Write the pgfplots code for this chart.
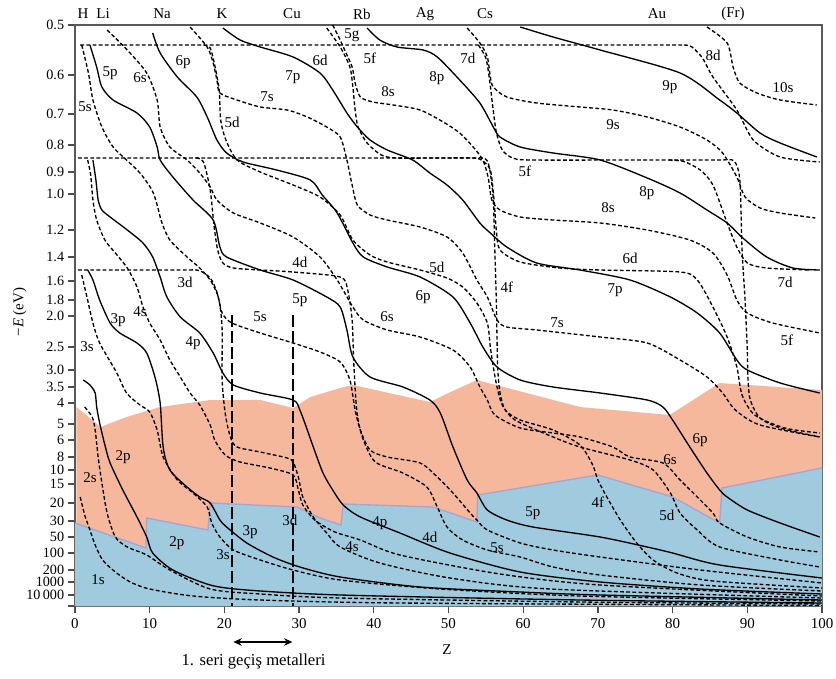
\documentclass[border=0pt]{standalone}
\usepackage{fontspec}
\setmainfont{Liberation Serif}
\usepackage{pgfplots}
\pgfplotsset{compat=1.18}
\usetikzlibrary{arrows.meta}
\definecolor{orangeF}{RGB}{245,184,156}
\definecolor{blueF}{RGB}{160,202,222}
\definecolor{edgeB}{RGB}{165,165,210}
\newcommand{\lab}{\fontsize{9}{10}\selectfont}
\pgfplotsset{
 sol/.style={black, line width=0.8pt, smooth, tension=0.45, no marks},
 das/.style={black, line width=0.8pt, dash pattern=on 2.3pt off 1.4pt, smooth, tension=0.45, no marks},
}
\begin{document}
\begin{tikzpicture}
\begin{axis}[name=ax, at={(0,0)}, anchor=south west, scale only axis,
 width=448.2pt, height=348.6pt,
 xmin=0, xmax=100, ymin=25, ymax=606, y dir=reverse, clip=false,
 axis line style={draw=black!65, line width=0.9pt},
 xtick={0,10,...,100}, xticklabels={0,10,20,30,40,50,60,70,80,90,100},
 ytick={25,75,114,145,172,194,230,257,281,300,316,347,370,387,403,424,440,457,470,484,503,521,537,553,570,582,595,606},
 yticklabels={0.5,0.6,0.7,0.8,0.9,1.0,1.2,1.4,1.6,1.8,2.0,2.5,3.0,3.5,4,5,6,8,10,15,20,30,50,100,200,1000,10\,000,{}},
 tick align=outside, major tick length=4pt,
 tick style={black!70, line width=0.8pt},
 xtick pos=bottom, ytick pos=left,
 xticklabel style={font=\lab},
 yticklabel style={font=\fontsize{8.5}{9}\selectfont, xshift=1pt, inner ysep=1pt},
]
% shaded regions
\addplot[fill=orangeF, draw=none] coordinates {(0.2,407) (3.4,427) (6.9,417) (11.4,407) (18.1,400) (24.8,400) (29.2,408) (31.5,397) (35.5,388) (37.2,385) (47.5,402) (50,393) (53.8,380) (67.6,407) (79.6,415) (86.3,383) (100,390) (100,606) (0.2,606)} -- cycle;
\addplot[fill=blueF, draw=none] coordinates {(0,523) (9.5,548) (9.6,518) (17.8,530) (18.1,503) (29.7,507) (32.8,518) (35.6,525) (35.9,504) (47.9,507) (53.8,522) (53.9,495) (70,475) (80,497) (86.3,523) (86.6,488) (100,468) (100,606) (0,606)} -- cycle;
\addplot[edgeB, line width=0.8pt] coordinates {(0,523) (9.5,548) (9.6,518) (17.8,530) (18.1,503) (29.7,507) (32.8,518) (35.6,525) (35.9,504) (47.9,507) (53.8,522) (53.9,495) (70,475) (80,497) (86.3,523) (86.6,488) (100,468)};

% hydrogen-like levels / high-l orbitals
\addplot[das] coordinates {(0.7,45) (40,45) (78,45) (81.5,45) (82.6,47) (84,58) (85.4,77) (88.6,110) (90.8,140) (94.4,157) (99.7,162)}; % 5g
\addplot[das] coordinates {(0.4,158) (30,158) (52,158) (54.5,158) (55.2,161) (55.6,173) (56.0,200) (56.2,250) (56.4,300) (56.5,340) (56.6,370) (56.9,393) (57.6,410) (59.6,420) (64.0,430) (67.6,445) (69.3,465) (70.0,480) (71.2,497) (73.0,520) (75.2,543) (77.4,560) (80.6,573) (85.4,581) (100,588)}; % 4f
\addplot[das] coordinates {(0.4,270) (8,270) (14.5,270) (16.6,270.5) (18.1,278) (18.9,290) (19.4,305) (19.7,330) (19.7,380) (20.1,413) (20.8,437) (21.7,447) (24.8,452) (28.4,458) (29.2,462) (29.9,477) (30.5,497) (31.9,517) (33.7,533) (35.5,547) (40.8,563) (50.2,578) (63.6,589) (100,598)}; % 3d
\addplot[das] coordinates {(54.0,45) (55.0,58) (55.5,80) (55.9,105) (56.4,132) (57.2,150) (58.6,158) (61,160) (75,160) (86,160) (88.2,161) (89.0,180) (89.3,250) (89.7,300) (90.0,350) (90.1,380) (90.4,400) (91.7,418) (94.4,428) (99.7,437)}; % 5f
\addplot[das] coordinates {(79.5,160) (81.5,161.5) (83.7,170) (85.4,185) (87.3,223) (88.6,247) (90.0,263) (92.6,268) (98.4,270)}; % 7d

% n = 1, 2
\addplot[das] coordinates {(0.7,497) (1.3,515) (2.0,530) (2.7,545) (3.7,560) (5.4,572) (7.4,582) (10.0,589) (15.8,596) (24.8,600) (43.5,603) (100,605.5)}; % 1s
\addplot[das] coordinates {(1.3,407) (2.3,417) (2.7,430) (3.1,457) (3.6,483) (4.3,513) (5.4,537) (7.0,547) (9.6,555) (12.7,570) (18.1,589) (24.8,594) (35.5,598) (67.6,602) (100,604)}; % 2s
\addplot[sol] coordinates {(1.1,380) (2.0,385) (2.7,393) (2.9,407) (3.3,423) (4.0,445) (4.7,463) (6.4,490) (8.3,517) (9.6,537) (10.4,553) (13.1,570) (18.1,585) (23.0,590) (35.5,595) (67.6,600) (100,603)}; % 2p

% n = 3
\addplot[das] coordinates {(0.9,275) (1.6,297) (2.4,323) (3.3,343) (5.6,373) (6.9,393) (8.7,405) (10.0,412) (11.0,430) (11.8,457) (13.7,480) (15.8,493) (17.7,507) (18.3,523) (19.4,537) (21.2,550) (24.8,560) (29.2,570) (35.5,580) (48.9,589) (67.6,596) (100,601)}; % 3s
\addplot[sol] coordinates {(1.7,270) (2.4,280) (3.3,300) (4.7,323) (6.0,333) (8.3,343) (9.6,353) (10.7,377) (11.4,403) (11.8,447) (12.7,470) (15.0,487) (16.7,497) (18.1,503) (19.4,520) (20.3,527) (23.0,543) (26.5,557) (30.1,567) (35.5,577) (46.2,587) (59.6,592) (70.3,595) (100,600)}; % 3p

% n = 4
\addplot[das] coordinates {(1.7,160) (2.1,175) (2.4,200) (2.9,220) (4.0,240) (5.4,253) (7.0,268) (8.3,287) (9.1,307) (10.0,323) (11.4,340) (12.7,360) (14.1,377) (15.4,393) (16.7,405) (18.1,425) (18.7,440) (20.1,455) (22.1,462) (26.1,468) (29.2,475) (29.9,490) (30.5,505) (32.1,520) (34.8,532) (38.2,540) (43.5,555) (56.9,574) (70.3,585) (100,596)}; % 4s
\addplot[sol] coordinates {(2.4,160) (2.8,180) (3.1,200) (3.6,210) (4.7,217) (7.0,230) (9.1,243) (10.4,257) (11.4,277) (12.3,297) (14.1,317) (16.7,333) (18.5,353) (19.8,373) (21.2,385) (24.8,393) (29.2,400) (30.1,410) (31.1,430) (31.9,447) (33.2,473) (34.5,490) (35.9,505) (38.2,517) (43.5,533) (50.2,553) (59.6,572) (70.3,582) (83.7,589) (100,594)}; % 4p
\addplot[das] coordinates {(16.2,158) (17.2,162) (18.1,190) (18.6,225) (19.1,250) (19.8,263) (21.2,268) (24.8,270) (29.2,272) (35.5,277) (36.5,290) (37.1,320) (37.3,360) (37.6,400) (37.9,420) (38.6,440) (40.2,462) (43.9,473) (47.1,487) (48.5,507) (49.8,527) (51.9,540) (55.2,550) (59.6,557) (64.0,567) (70.3,575) (83.7,585) (100,591)}; % 4d

% n = 5
\addplot[das] coordinates {(0.9,45) (1.8,73) (2.4,100) (3.6,127) (5.1,147) (6.9,160) (8.7,173) (10.3,190) (11.0,205) (11.6,222) (12.7,240) (15.0,257) (16.7,268) (18.1,280) (19.1,295) (19.7,313) (21.0,323) (24.8,333) (29.2,343) (32.8,352) (35.5,362) (36.8,380) (37.5,410) (38.2,430) (39.5,450) (41.8,457) (46.2,463) (48.5,477) (50.6,493) (52.9,513) (53.8,520) (55.2,530) (59.6,543) (64.0,550) (70.3,557) (83.7,570) (100,583)}; % 5s
\addplot[sol] coordinates {(2.0,45) (2.9,67) (3.6,87) (5.1,100) (8.3,113) (10.0,127) (11.0,147) (11.4,160) (13.1,177) (15.8,200) (18.5,220) (19.4,247) (20.3,257) (24.8,270) (29.2,280) (33.7,297) (35.5,307) (36.4,330) (37.2,357) (39.5,377) (43.9,387) (47.5,400) (48.9,413) (50.6,447) (52.5,480) (53.8,493) (55.2,510) (57.8,520) (61.3,527) (70.3,537) (76.6,547) (80.0,553) (86.3,565) (100,578)}; % 5p
\addplot[das] coordinates {(17.2,45) (18.1,48) (18.7,65) (19.3,90) (19.5,120) (20.2,140) (21.7,160) (24.8,172) (29.2,185) (32.8,197) (35.5,215) (37.2,240) (39.5,255) (41.8,262) (46.2,270) (49.8,278) (51.9,287) (53.8,303) (55.2,323) (55.6,347) (56.0,367) (56.5,387) (57.2,405) (58.9,420) (64.0,437) (67.6,447) (74.3,460) (77.4,470) (79.7,493) (81.0,513) (83.3,530) (86.3,547) (94.4,560) (99.7,567)}; % 5d

% n = 6
\addplot[das] coordinates {(4.3,30) (7.0,50) (9.6,73) (11.0,100) (11.4,127) (12.7,147) (15.0,160) (16.7,173) (18.1,187) (19.0,200) (21.2,213) (24.8,223) (29.2,237) (32.8,257) (35.1,280) (37.2,307) (38.6,320) (41.8,330) (46.2,337) (50.6,350) (52.9,367) (54.2,387) (55.2,400) (56.2,415) (59.6,428) (64.0,433) (67.6,437) (72.0,447) (74.3,457) (78.7,463) (81.0,480) (83.3,497) (85.4,513) (86.3,523) (90.0,537) (94.4,547) (99.7,552)}; % 6s
\addplot[sol] coordinates {(10.4,33) (11.4,53) (13.7,77) (16.3,97) (17.7,117) (19.0,140) (20.3,153) (22.5,162) (27.0,170) (31.5,180) (33.1,195) (35.1,213) (37.2,243) (38.6,257) (41.8,267) (46.2,277) (50.6,297) (52.9,323) (54.6,347) (56.5,367) (59.6,380) (64.0,387) (70.3,393) (76.6,400) (78.7,407) (80.0,420) (82.3,447) (84.6,473) (86.3,490) (87.3,497) (90.0,510) (94.4,523) (99.7,537)}; % 6p
\addplot[das] coordinates {(33.7,28) (35.5,47) (36.8,67) (37.2,87) (37.5,110) (37.9,127) (39.1,143) (41.0,155) (43,158) (48,158) (53.2,158) (54.4,160) (55.6,170) (56.1,200) (56.4,230) (56.9,250) (59.6,262) (64.9,268) (70.3,270) (81.0,272) (83.3,280) (85.4,307) (87.3,337) (88.6,367) (89.3,395) (91.0,415) (95.0,428) (99.7,433)}; % 6d

% n = 7 and higher
\addplot[das] coordinates {(15.4,27) (17.7,47) (18.5,63) (19.0,80) (19.4,93) (21.7,100) (24.8,107) (28.4,110) (31.1,117) (33.7,127) (35.5,137) (36.4,160) (37.1,185) (37.8,205) (39.5,215) (41.8,220) (46.2,227) (49.8,237) (51.9,253) (53.8,280) (55.2,297) (56.5,320) (57.8,327) (61.8,330) (70.3,337) (76.6,343) (81.0,360) (84.6,377) (86.7,393) (88.4,410) (91.7,425) (99.7,437)}; % 7s
\addplot[sol] coordinates {(19.8,28) (22.1,40) (24.8,47) (29.2,57) (32.8,73) (34.5,90) (36.4,113) (37.8,127) (39.5,140) (41.8,150) (45.2,160) (47.5,173) (49.8,185) (51.9,200) (54.2,223) (55.6,233) (57.8,247) (61.8,263) (67.6,270) (74.3,280) (79.7,297) (83.3,313) (86.3,333) (88.6,360) (90.0,370) (94.4,383) (99.7,393)}; % 7p
\addplot[das] coordinates {(34.5,25) (35.5,40) (36.1,50) (37.1,67) (37.5,83) (38.2,97) (39.9,102) (42.6,105) (46.2,110) (49.3,122) (51.5,133) (53.3,147) (54.6,160) (55.3,177) (55.8,200) (56.9,210) (59.6,217) (64.0,220) (70.3,223) (76.6,230) (82.3,240) (85.4,253) (87.3,275) (88.6,300) (90.0,313) (93.4,323) (99.7,333)}; % 8s
\addplot[sol] coordinates {(39.1,28) (40.8,40) (43.1,47) (46.6,50) (48.5,57) (51.5,80) (54.2,103) (56.0,127) (56.9,137) (59.6,147) (64.0,153) (70.3,160) (76.6,178) (81.0,193) (84.6,210) (87.3,223) (89.4,238) (92.6,257) (96.1,268) (99.7,270)}; % 8p
\addplot[das] coordinates {(52.5,28) (54.2,43) (55.2,57) (55.6,77) (56.0,87) (57.8,97) (61.8,103) (67.6,107) (72.0,110) (76.6,117) (81.0,127) (84.6,140) (86.7,153) (88.6,177) (89.7,197) (91.7,208) (94.4,213) (99.1,218)}; % 9s
\addplot[sol] coordinates {(59.6,27) (64.0,37) (70.3,50) (81.0,73) (86.3,100) (88.6,113) (91.7,133) (94.4,143) (99.3,157)}; % 9p
\addplot[das] coordinates {(84.6,27) (87.3,43) (88.1,67) (89.0,83) (91.3,93) (94.4,100) (99.3,105)}; % 10s

% first transition series markers
\addplot[black, line width=1.3pt, dash pattern=on 7pt off 2.6pt] coordinates {(21,315) (21,606)};
\addplot[black, line width=1.3pt, dash pattern=on 7pt off 2.6pt] coordinates {(29.2,315) (29.2,606)};

% curve labels
\node[font=\lab] at (axis cs:1.34,107) {5s};
\node[font=\lab] at (axis cs:4.69,73) {5p};
\node[font=\lab] at (axis cs:8.70,78) {6s};
\node[font=\lab] at (axis cs:14.46,62) {6p};
\node[font=\lab] at (axis cs:25.70,97) {7s};
\node[font=\lab] at (axis cs:21.02,122) {5d};
\node[font=\lab] at (axis cs:29.18,77) {7p};
\node[font=\lab] at (axis cs:32.80,60) {6d};
\node[font=\lab] at (axis cs:37.08,35) {5g};
\node[font=\lab] at (axis cs:39.49,58) {5f};
\node[font=\lab] at (axis cs:41.90,92) {8s};
\node[font=\lab] at (axis cs:48.46,78) {8p};
\node[font=\lab] at (axis cs:52.61,58) {7d};
\node[font=\lab] at (axis cs:60.24,171) {5f};
\node[font=\lab] at (axis cs:85.41,55) {8d};
\node[font=\lab] at (axis cs:79.65,87) {9p};
\node[font=\lab] at (axis cs:94.78,88) {10s};
\node[font=\lab] at (axis cs:72.02,125) {9s};
\node[font=\lab] at (axis cs:76.57,193) {8p};
\node[font=\lab] at (axis cs:71.35,208) {8s};
\node[font=\lab] at (axis cs:74.30,258) {6d};
\node[font=\lab] at (axis cs:72.29,290) {7p};
\node[font=\lab] at (axis cs:95.05,282) {7d};
\node[font=\lab] at (axis cs:95.31,340) {5f};
\node[font=\lab] at (axis cs:30.12,262) {4d};
\node[font=\lab] at (axis cs:14.73,282) {3d};
\node[font=\lab] at (axis cs:24.77,317) {5s};
\node[font=\lab] at (axis cs:30.12,300) {5p};
\node[font=\lab] at (axis cs:5.76,320) {3p};
\node[font=\lab] at (axis cs:8.70,312) {4s};
\node[font=\lab] at (axis cs:15.80,343) {4p};
\node[font=\lab] at (axis cs:1.61,347) {3s};
\node[font=\lab] at (axis cs:41.77,317) {6s};
\node[font=\lab] at (axis cs:46.59,297) {6p};
\node[font=\lab] at (axis cs:48.46,267) {5d};
\node[font=\lab] at (axis cs:57.83,287) {4f};
\node[font=\lab] at (axis cs:64.52,323) {7s};
\node[font=\lab] at (axis cs:6.43,457) {2p};
\node[font=\lab] at (axis cs:2.01,478) {2s};
\node[font=\lab] at (axis cs:13.65,543) {2p};
\node[font=\lab] at (axis cs:23.43,532) {3p};
\node[font=\lab] at (axis cs:19.81,555) {3s};
\node[font=\lab] at (axis cs:28.78,520) {3d};
\node[font=\lab] at (axis cs:3.08,580) {1s};
\node[font=\lab] at (axis cs:40.83,523) {4p};
\node[font=\lab] at (axis cs:47.52,537) {4d};
\node[font=\lab] at (axis cs:37.08,547) {4s};
\node[font=\lab] at (axis cs:56.49,548) {5s};
\node[font=\lab] at (axis cs:61.31,513) {5p};
\node[font=\lab] at (axis cs:70.01,502) {4f};
\node[font=\lab] at (axis cs:83.67,440) {6p};
\node[font=\lab] at (axis cs:79.65,460) {6s};
\node[font=\lab] at (axis cs:79.25,515) {5d};

% element labels
\node[font=\lab] at (axis cs:1.07,14) {H};
\node[font=\lab] at (axis cs:3.75,14) {Li};
\node[font=\lab] at (axis cs:11.65,14) {Na};
\node[font=\lab] at (axis cs:19.68,14) {K};
\node[font=\lab] at (axis cs:29.05,14) {Cu};
\node[font=\lab] at (axis cs:38.42,14) {Rb};
\node[font=\lab] at (axis cs:46.85,14) {Ag};
\node[font=\lab] at (axis cs:54.89,14) {Cs};
\node[font=\lab] at (axis cs:77.91,14) {Au};
\node[font=\lab] at (axis cs:88.09,14) {(Fr)};

% axis titles and annotation
\node[font=\lab, rotate=90] at (axis cs:-7.4,312) {−\textit{E} (eV)};
\node[font=\lab] at (axis cs:49.8,650) {Z};
\draw[{Stealth[length=5pt,width=4.5pt]}-{Stealth[length=5pt,width=4.5pt]}, line width=1.1pt] (axis cs:21.2,642) -- (axis cs:29.1,642);
\node[font=\fontsize{10}{12}\selectfont] at (axis cs:23.9,662) {1. seri geçiş metalleri};
\end{axis}
\pgfresetboundingbox
\path[use as bounding box] ([xshift=-45pt,yshift=-43.8pt]ax.south west) rectangle ([xshift=8.4pt,yshift=15pt]ax.north east);
\end{tikzpicture}
\end{document}
